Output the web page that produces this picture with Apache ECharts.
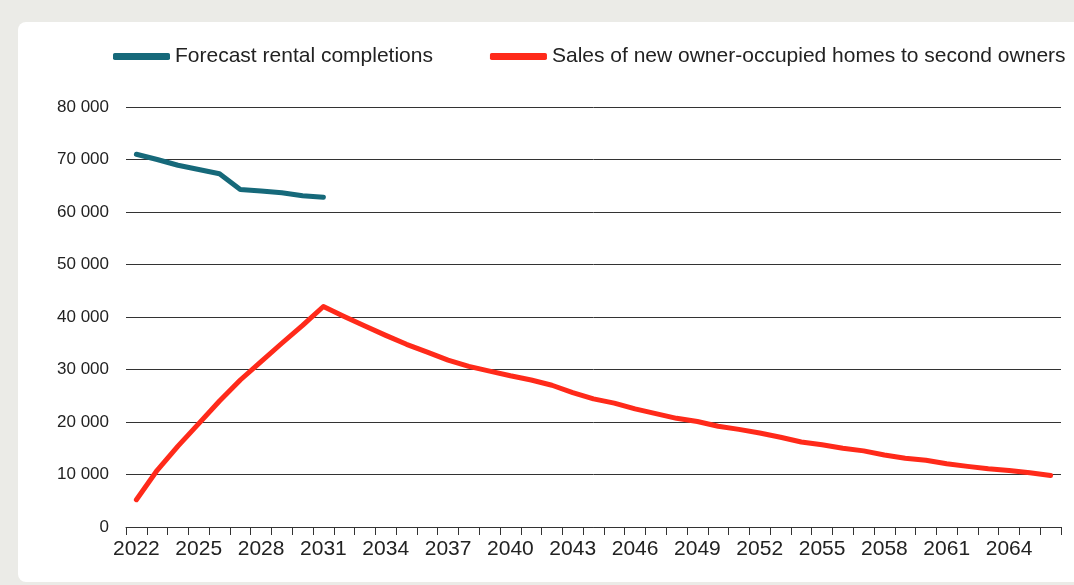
<!DOCTYPE html>
<html>
<head>
<meta charset="utf-8">
<script src="https://cdn.jsdelivr.net/npm/echarts@6/dist/echarts.min.js"></script>
<style>
html,body{margin:0;padding:0;background:#ebebe7;}
#chart{width:1074px;height:585px;}
</style>
</head>
<body>
<div id="chart"></div>
<script>
const years = [];
for (let y = 2022; y <= 2066; y++) years.push(String(y));

const seriesNames = ['Forecast rental completions', 'Sales of new owner-occupied homes to second owners'];

const rentalCompletions = [71000, 70000, 68900, 68100, 67300, 64300, 64000, 63650, 63100, 62800];

const secondOwnerSales = [
  5200, 10800, 15400, 19700, 24000, 28000, 31500, 35000, 38400, 42000,
  40100, 38300, 36500, 34800, 33300, 31800, 30600, 29700, 28800, 28000,
  27000, 25600, 24400, 23600, 22500, 21600, 20700, 20100, 19200, 18600,
  17900, 17100, 16200, 15650, 15000, 14500, 13700, 13100, 12700, 12050,
  11550, 11100, 10770, 10320, 9810
];

const yTicks = [0, 10000, 20000, 30000, 40000, 50000, 60000, 70000, 80000];

const chart = echarts.init(document.getElementById('chart'), null, {renderer: 'canvas'});
const fontFam = '"Liberation Sans", Arial, sans-serif';
chart.setOption({
  backgroundColor: '#ebebe7',
  animation: false,
  graphic: [{
    type: 'rect', z: -10, silent: true,
    shape: {x: 18, y: 22, width: 1080, height: 560, r: 8},
    style: {fill: '#ffffff'}
  }],
  legend: {
    left: 108, top: 41,
    itemWidth: 57, itemHeight: 7, itemGap: 57,
    icon: 'roundRect',
    textStyle: {fontFamily: fontFam, fontSize: 21, color: '#222'},
    data: seriesNames
  },
  grid: {left: 126, right: 13, top: 107, bottom: 58, containLabel: false},
  xAxis: {
    type: 'category',
    data: years,
    boundaryGap: true,
    axisLine: {lineStyle: {color: '#333', width: 1}},
    axisTick: {show: true, interval: 0, length: 8, lineStyle: {color: '#333'}},
    axisLabel: {interval: 2, color: '#222', fontSize: 21, fontFamily: fontFam, margin: 12},
    splitLine: {show: false}
  },
  yAxis: {
    type: 'value',
    min: yTicks[0], max: yTicks[yTicks.length - 1], interval: 10000,
    axisLine: {show: false},
    axisTick: {show: false},
    axisLabel: {
      color: '#222', fontSize: 17, fontFamily: fontFam, margin: 17,
      formatter: v => String(v).replace(/\B(?=(\d{3})+(?!\d))/g, ' ')
    },
    splitLine: {lineStyle: {color: '#333', width: 1}}
  },
  series: [
    {
      name: seriesNames[0], type: 'line', data: rentalCompletions,
      showSymbol: false, symbol: 'none',
      lineStyle: {width: 5, color: '#16697a', cap: 'round', join: 'round'},
      itemStyle: {color: '#16697a'}
    },
    {
      name: seriesNames[1], type: 'line', data: secondOwnerSales,
      showSymbol: false, symbol: 'none',
      lineStyle: {width: 5, color: '#ff2a1a', cap: 'round', join: 'round'},
      itemStyle: {color: '#ff2a1a'}
    }
  ]
});
</script>
</body>
</html>
